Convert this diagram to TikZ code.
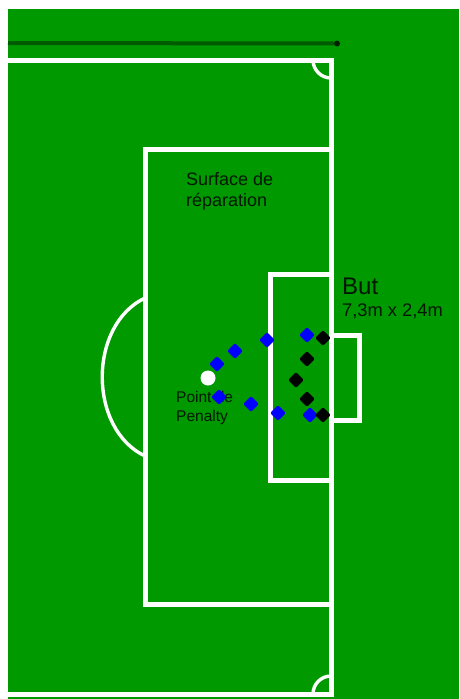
\documentclass[tikz,border=0pt]{standalone}
\usepackage{fontspec}
\setmainfont{Liberation Sans}
\usetikzlibrary{shapes.geometric}
\definecolor{pitch}{HTML}{009900}
\definecolor{darkline}{HTML}{005A00}
\tikzset{
  field/.style={draw=white,line width=5pt,line join=miter},
  thinfield/.style={draw=white,line width=3.4pt},
  bluedot/.style={diamond,rounded corners=2pt,fill=blue,inner sep=0pt,minimum size=16pt},
  blackdot/.style={diamond,rounded corners=2pt,fill=black,inner sep=0pt,minimum size=16pt},
  whitedot/.style={circle,fill=white,inner sep=0pt,minimum size=15pt},
  lbl/.style={anchor=base west,inner sep=0pt,text=black!85!pitch}
}
\begin{document}
\begin{tikzpicture}[x=1pt,y=-1pt]
\useasboundingbox (0,0) rectangle (459,699);
\fill[white] (0,0) rectangle (459,699);
\fill[pitch] (8,9) rectangle (459,699);
% top dark bar
\coordinate (barA) at (8,43);
\node[circle,fill=black!80!pitch,inner sep=0pt,minimum size=6pt] (barB) at (337,43.5) {};
\draw[draw=darkline,line width=4pt] (barA) -- (barB);
% pitch lines
\draw[field] (8,60) -- (331,60) -- (331,694) -- (8,694);
\draw[field] (331,149) -- (145,149) -- (145,604.5) -- (331,604.5);
\draw[field] (331,274) -- (270,274) -- (270,480) -- (331,480);
\draw[field] (331,335) -- (359,335) -- (359,420) -- (331,420);
% arcs
\draw[thinfield] (145,298) .. controls (88,325) and (88,429) .. (145,456);
\draw[thinfield] (313,60) arc[start angle=180,end angle=90,radius=18];
\draw[thinfield] (313,694) arc[start angle=180,end angle=270,radius=18];
% labels
\node[lbl,font=\fontsize{18}{18}\selectfont] (t1) at (186,185) {Surface de};
\node[lbl,font=\fontsize{18}{18}\selectfont] (t2) at (186,206) {réparation};
\node[lbl,font=\fontsize{24}{24}\selectfont] (t3) at (342,294) {But};
\node[lbl,font=\fontsize{18.3}{18}\selectfont] (t4) at (342,316) {7,3m x 2,4m};
\node[lbl,font=\fontsize{15.5}{15}\selectfont] (t5) at (176,402) {Point de};
\node[lbl,font=\fontsize{15.5}{15}\selectfont] (t6) at (176,421) {Penalty};
% ball spot
\node[whitedot] (spot) at (208,378) {};
% blue players
\node[bluedot] (b1) at (217,364) {};
\node[bluedot] (b2) at (235,351) {};
\node[bluedot] (b3) at (267,340) {};
\node[bluedot] (b4) at (307,335) {};
\node[bluedot] (b5) at (219,397) {};
\node[bluedot] (b6) at (251,404) {};
\node[bluedot] (b7) at (278,413) {};
\node[bluedot] (b8) at (310,415) {};
% black players
\node[blackdot] (k1) at (323,338) {};
\node[blackdot] (k2) at (307,359) {};
\node[blackdot] (k3) at (296,380) {};
\node[blackdot] (k4) at (307,399) {};
\node[blackdot] (k5) at (323,415) {};
\end{tikzpicture}
\end{document}
